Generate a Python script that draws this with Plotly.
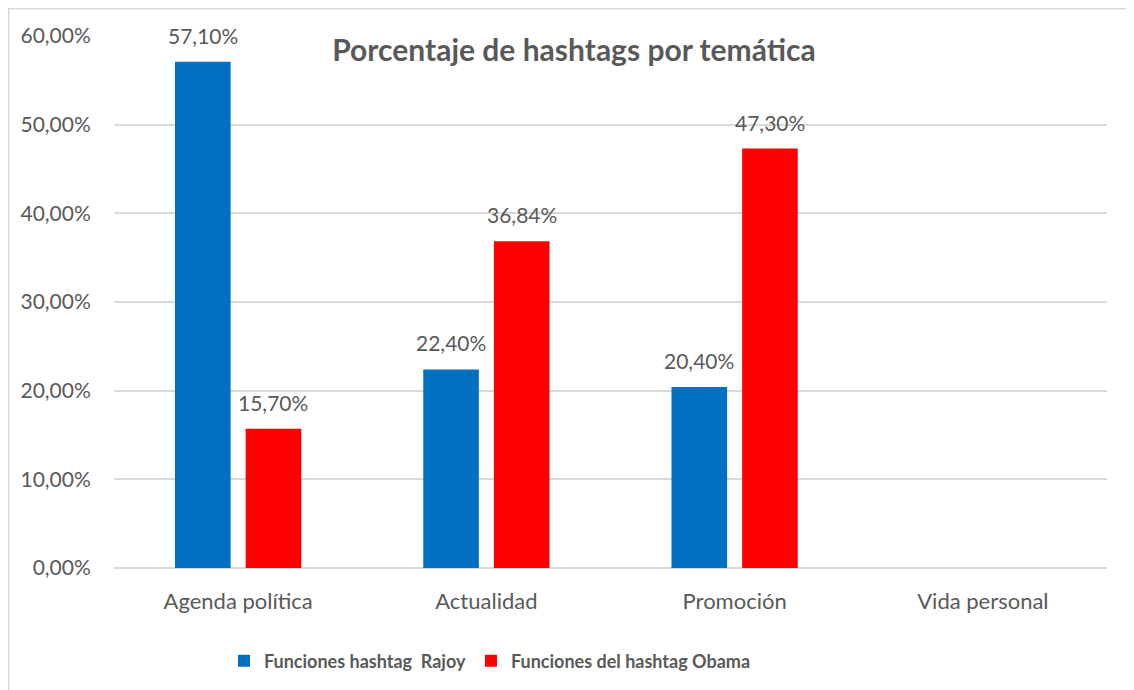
import plotly.graph_objects as go

categories = ["Agenda política", "Actualidad", "Promoción", "Vida personal"]
rajoy = [0.571, 0.224, 0.204, None]
obama = [0.157, 0.3684, 0.473, None]
series_names = ["Funciones hashtag\u00a0 Rajoy", "Funciones del hashtag Obama"]
tick_vals = [0, 0.1, 0.2, 0.3, 0.4, 0.5, 0.6]

BLUE = "#0070C0"
RED = "#FF0000"
TXT = "#595959"
GRID = "#D9D9D9"
FONT = "Lato, 'Open Sans', sans-serif"

# figure-pixel geometry (page is offset by the 8px body margin)
L, R, T, B = 106, 35, 28, 130
PW = 1134 - L - R
PH = 690 - T - B

fig = go.Figure()
fig.add_trace(go.Bar(x=categories, y=rajoy, name=series_names[0], marker_color=BLUE,
                     marker_line_width=0, hoverinfo="skip"))
fig.add_trace(go.Bar(x=categories, y=obama, name=series_names[1], marker_color=RED,
                     marker_line_width=0, hoverinfo="skip"))

# data labels anchored to data coordinates
slot_px = 35.3
for vals, shift in ((rajoy, -slot_px), (obama, slot_px)):
    for c, v in zip(categories, vals):
        if v is None:
            continue
        fig.add_annotation(x=c, y=v, xref="x", yref="y", text=f"{v*100:.2f}%".replace(".", ","),
                           showarrow=False, xshift=shift, yanchor="bottom", yshift=12,
                           font=dict(family=FONT, size=21, color=TXT))

fig.add_shape(type="rect", xref="paper", yref="paper",
              x0=(0.75 - L) / PW, x1=(1160 - L) / PW,
              y0=(PH + T - 720) / PH, y1=(PH + T - 0.75) / PH,
              line=dict(color=GRID, width=1.5), fillcolor="rgba(0,0,0,0)", layer="below")

fig.update_layout(
    width=1134, height=690,
    margin=dict(l=L, r=R, t=T, b=B),
    paper_bgcolor="white", plot_bgcolor="white",
    separators=",.",
    barmode="group", bargap=0.431, bargroupgap=0.2125,
    font=dict(family=FONT, color=TXT, size=21),
    title=dict(text="<b>Porcentaje de hashtags por temática</b>", x=566 / 1134, xanchor="center",
               y=1 - 42 / 690, yanchor="middle", yref="container",
               font=dict(family=FONT, size=30, color=TXT)),
    showlegend=True,
    legend=dict(orientation="h", x=(482 - L) / PW, xanchor="center",
                y=(PH + T - 653) / PH, yanchor="middle",
                font=dict(family=FONT, size=18, color=TXT, weight="bold"),
                itemwidth=30, traceorder="normal"),
    xaxis=dict(showgrid=False, showline=False, zeroline=False,
               ticks="outside", ticklen=14, tickcolor="rgba(0,0,0,0)",
               tickfont=dict(family=FONT, size=22, color=TXT)),
    yaxis=dict(range=[0, 0.6], tickvals=tick_vals, tickformat=".2%",
               showgrid=True, gridcolor=GRID, gridwidth=1.5,
               zeroline=True, zerolinecolor=GRID, zerolinewidth=1.5,
               showline=False, ticks="outside", ticklen=18, tickcolor="rgba(0,0,0,0)",
               tickfont=dict(family=FONT, size=21, color=TXT)),
)

fig.write_html("out.html")
